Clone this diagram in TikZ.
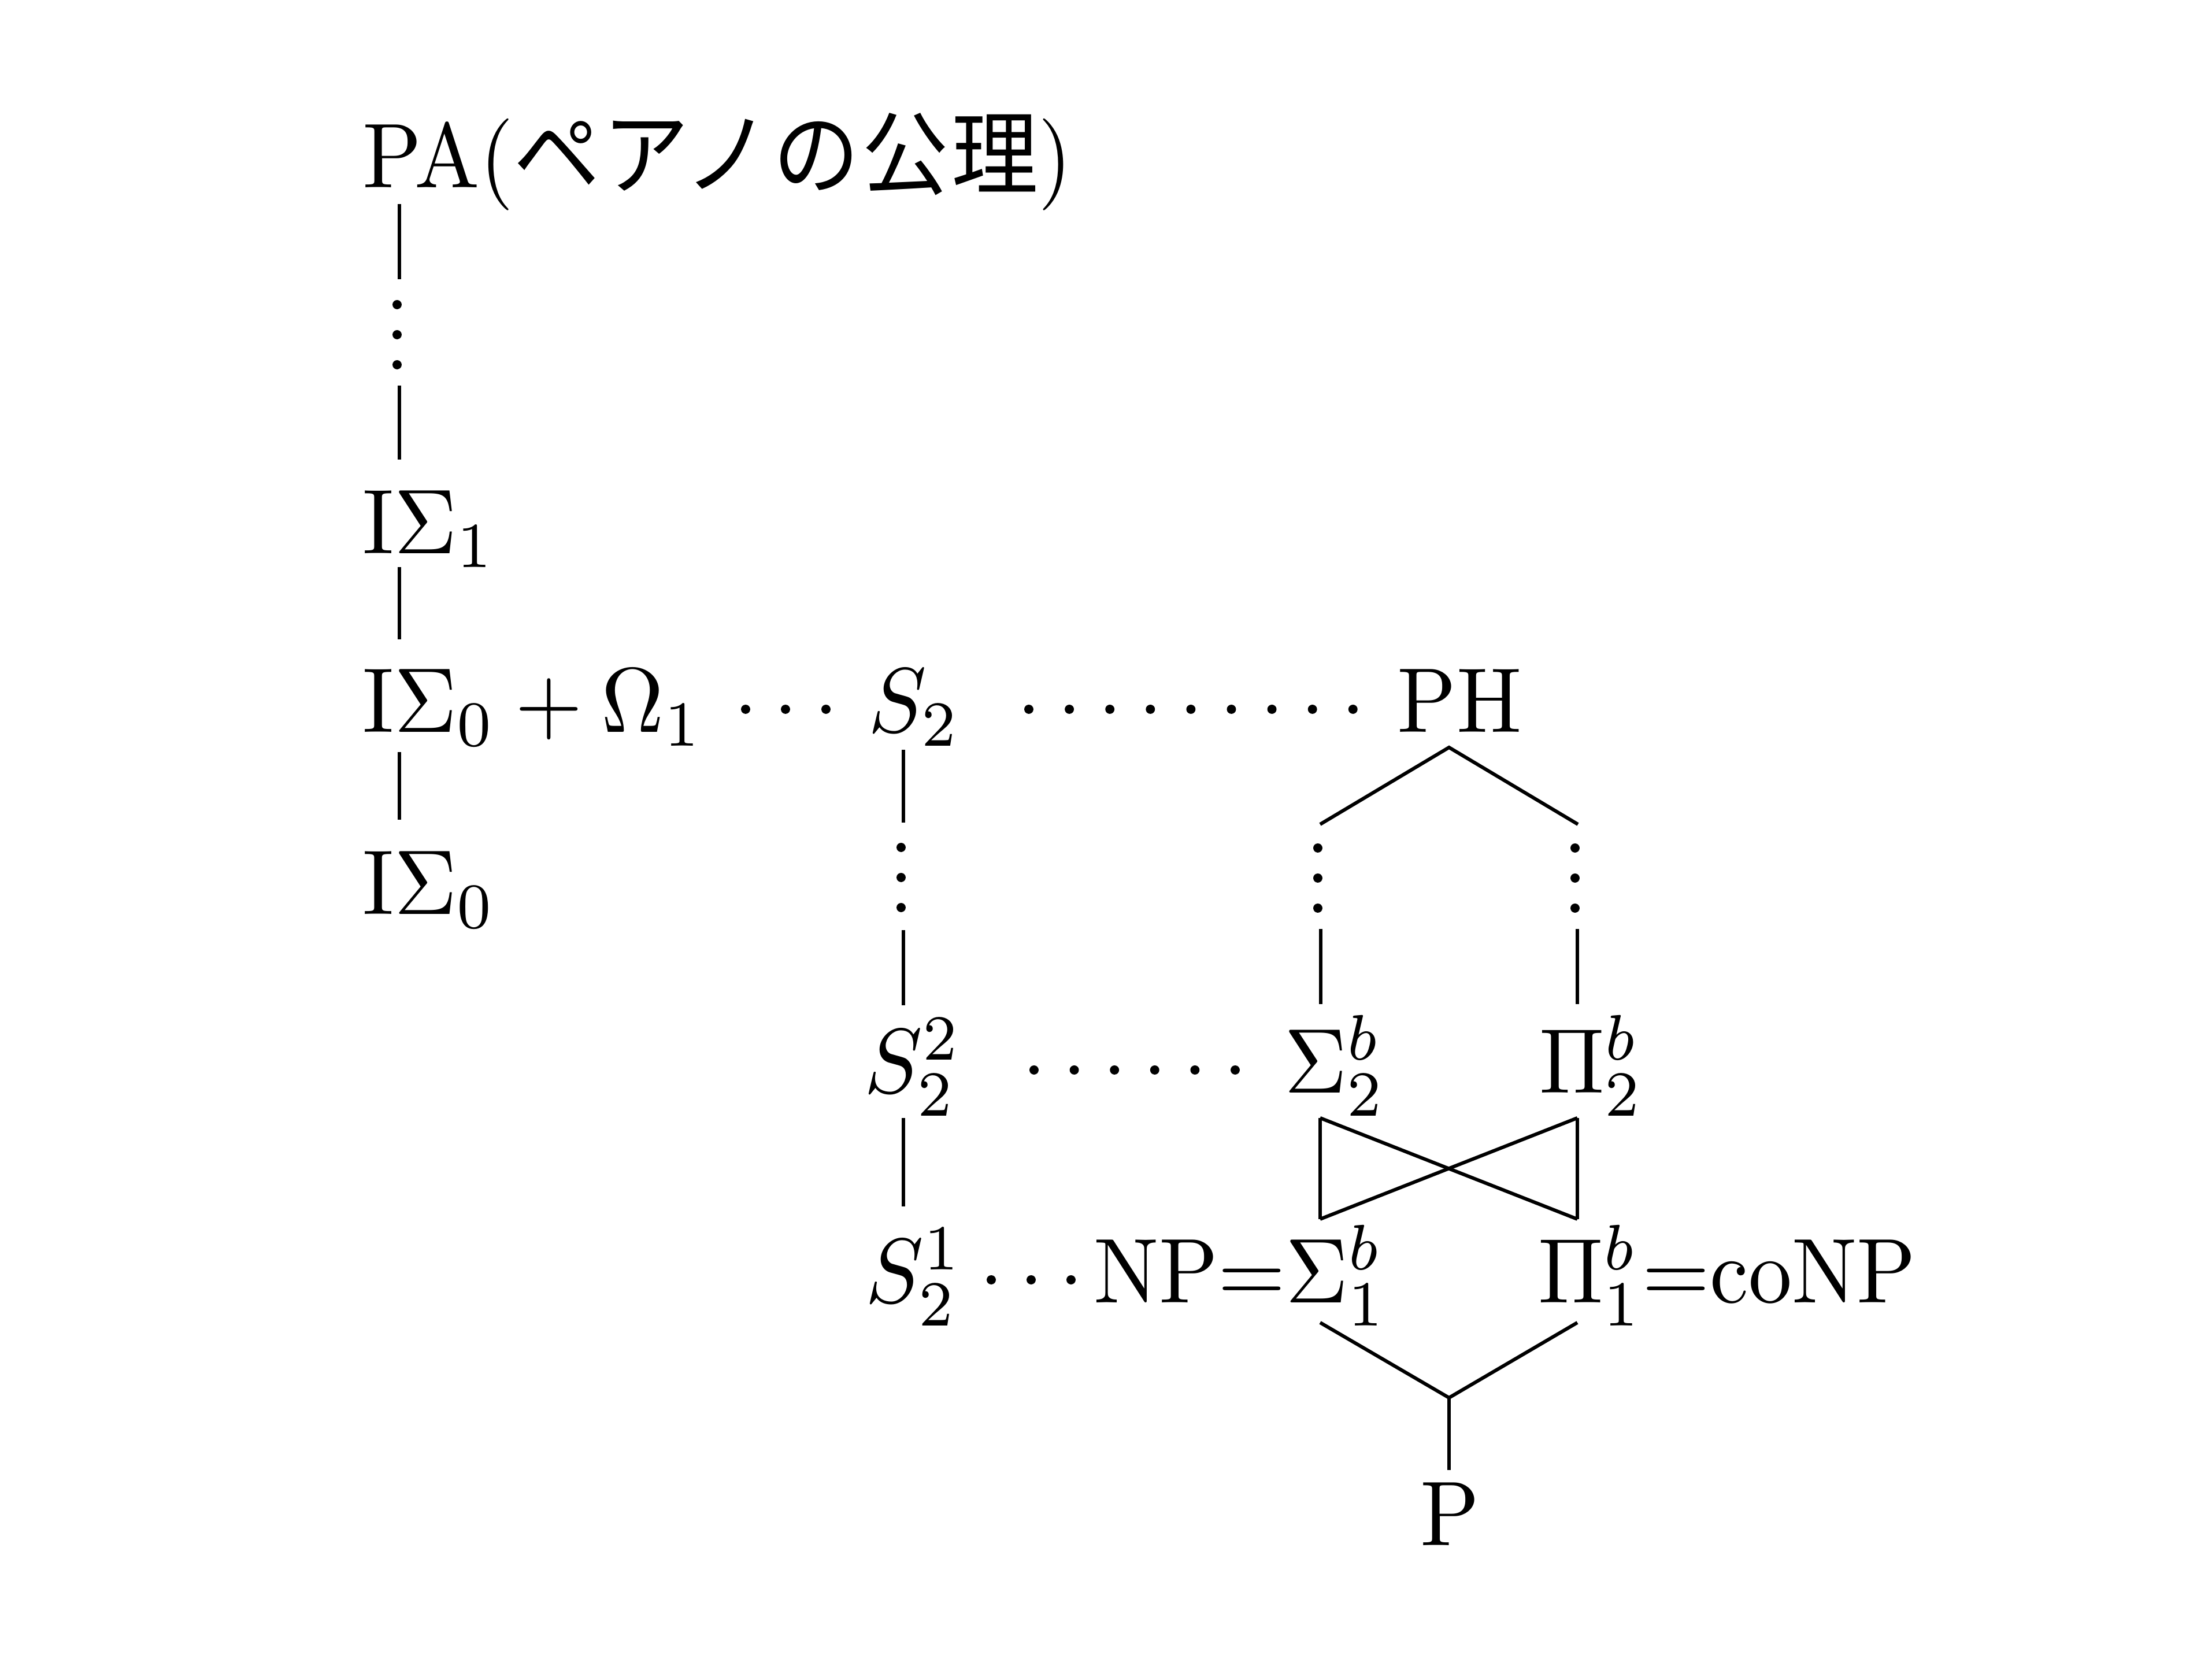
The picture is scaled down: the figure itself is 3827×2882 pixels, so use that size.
\documentclass[tikz,border=0pt]{standalone}
\usepackage{fontspec}
\usepackage{graphicx}
\newfontfamily\jpfont[LetterSpace=2.8]{Noto Sans CJK JP}
\newcommand*\vsc[1]{\scalebox{1}[1.06]{#1}}
\begin{document}
\begin{tikzpicture}[x=0.06667pt, y=-0.06667pt,
  lbl/.style={inner sep=0pt, outer sep=0pt, anchor=base west},
  ln/.style={line width=0.4pt},
  dotmark/.style={fill=black}]
\useasboundingbox (0,0) rectangle (3827,2882);
% texts
\node[lbl] (pa)   at (628,325)   {\vsc{PA({\jpfont ペアノの公理})}};
\node[lbl] (is1)  at (628,958)   {\vsc{$\mathrm{I}\Sigma_1$}};
\node[lbl] (is0o) at (628,1267)  {\vsc{$\mathrm{I}\Sigma_0+\Omega_1$}};
\node[lbl] (is0)  at (628,1582)  {\vsc{$\mathrm{I}\Sigma_0$}};
\node[lbl] (s2)   at (1503,1267) {\vsc{$S_2$}};
\node[lbl] (ph)   at (2418,1267) {\vsc{$\mathrm{PH}$}};
\node[lbl] (s22)  at (1496,1891) {\vsc{$S_2^2$}};
\node[lbl] (sig2) at (2222,1891) {\vsc{$\Sigma_2^b$}};
\node[lbl] (pi2)  at (2664,1891) {\vsc{$\Pi_2^b$}};
\node[lbl] (s21)  at (1498,2254) {\vsc{$S_2^1$}};
\node[lbl] (np)   at (1893,2254) {\vsc{$\mathrm{NP}{=}\Sigma_1^b$}};
\node[lbl] (conp) at (2662,2254) {\vsc{$\Pi_1^b{=}\mathrm{coNP}$}};
\node[lbl] (p)    at (2457,2674) {\vsc{$\mathrm{P}$}};
% junction coordinates
\coordinate (phtop) at (2507,1293);
\coordinate (phl) at (2284,1426);
\coordinate (phr) at (2730,1426);
\coordinate (pbot) at (2507,2418);
% left column
\draw[ln] (691,353) -- (691,483);
\foreach \yy in {527,579,631} \fill[dotmark] (687,\yy) circle[radius=0.53pt];
\draw[ln] (691,667) -- (691,795);
\draw[ln] (691,981) -- (691,1106);
\draw[ln] (691,1301) -- (691,1418);
% S2 column
\draw[ln] (1563,1297) -- (1563,1423);
\foreach \yy in {1466,1518,1570} \fill[dotmark] (1559,\yy) circle[radius=0.53pt];
\draw[ln] (1563,1609) -- (1563,1739);
\draw[ln] (1563,1934) -- (1563,2087);
% horizontal dotted connectors
\foreach \xx in {1290,1359,1429} \fill[dotmark] (\xx,1227) circle[radius=0.53pt];
\foreach \k in {0,...,8} \fill[dotmark] ({1780+70.1*\k},1227) circle[radius=0.53pt];
\foreach \k in {0,...,5} \fill[dotmark] ({1789+69.6*\k},1851) circle[radius=0.53pt];
\foreach \xx in {1715,1784,1853} \fill[dotmark] (\xx,2214) circle[radius=0.53pt];
% PH fork
\draw[ln] (phl) -- (phtop) -- (phr);
\foreach \yy in {1467,1519,1571} {
  \fill[dotmark] (2280,\yy) circle[radius=0.53pt];
  \fill[dotmark] (2725,\yy) circle[radius=0.53pt];
}
\draw[ln] (2285,1607) -- (2285,1737);
\draw[ln] (2729,1607) -- (2729,1737);
% cross
\draw[ln] (2284,1934) -- (2284,2109);
\draw[ln] (2729,1934) -- (2729,2109);
\draw[ln] (2284,1934) -- (2729,2109);
\draw[ln] (2729,1934) -- (2284,2109);
% P fork
\draw[ln] (2284,2288) -- (pbot) -- (2729,2288);
\draw[ln] (pbot) -- (2507,2543);
\end{tikzpicture}
\end{document}
